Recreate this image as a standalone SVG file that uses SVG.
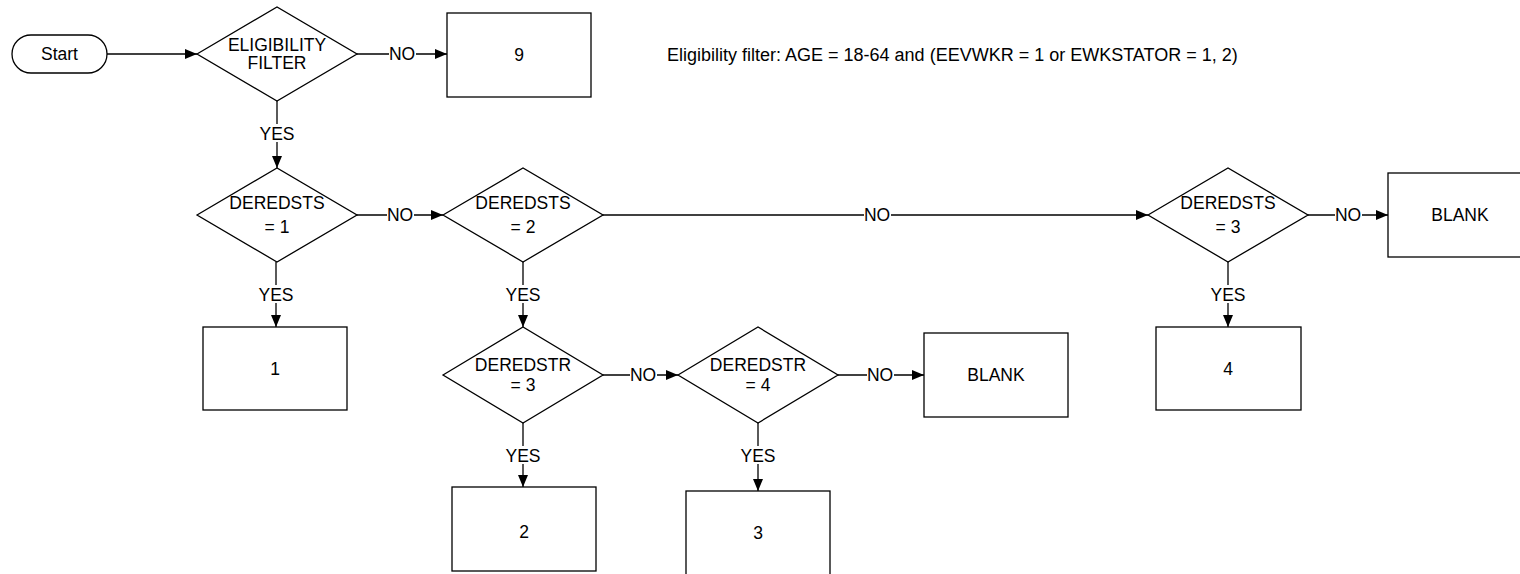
<svg xmlns="http://www.w3.org/2000/svg" width="1520" height="574" viewBox="0 0 1520 574">
<style>
  .shape { fill: #ffffff; stroke: #000000; stroke-width: 1.3; }
  .txt { font-family: "Liberation Sans", Arial, sans-serif; font-size: 17.5px; fill: #000000; text-anchor: middle; }
  .note { font-family: "Liberation Sans", Arial, sans-serif; font-size: 18px; fill: #000000; text-anchor: start; }
  .edge { fill: none; stroke: #000000; stroke-width: 1.3; marker-end: url(#arrow); }
  .bg { fill: #ffffff; stroke: none; }
  .lbl { font-family: "Liberation Sans", Arial, sans-serif; font-size: 17.5px; fill: #000000; text-anchor: middle; }
</style>
<defs>
  <marker id="arrow" markerUnits="userSpaceOnUse" markerWidth="13" markerHeight="11" refX="12" refY="5" orient="auto">
    <path d="M0,0 L12,5 L0,10 Z" fill="#000000"/>
  </marker>
</defs>
<rect width="1520" height="574" fill="#ffffff"/>

<g id="connectors">
  <path class="edge" d="M107,54 L197,54"/>

  <path class="edge" d="M357,54 L447,54"/>
  <rect class="bg" x="389" y="45" width="27" height="18"/>
  <text class="lbl" x="402" y="60">NO</text>

  <path class="edge" d="M277,101 L277,168"/>
  <rect class="bg" x="259" y="124" width="36" height="18"/>
  <text class="lbl" x="277" y="140">YES</text>

  <path class="edge" d="M357,215 L443,215"/>
  <rect class="bg" x="387" y="206" width="27" height="18"/>
  <text class="lbl" x="400" y="221">NO</text>

  <path class="edge" d="M276,262 L276,327"/>
  <rect class="bg" x="258" y="285" width="36" height="18"/>
  <text class="lbl" x="276" y="301">YES</text>

  <path class="edge" d="M603,215 L1148,215"/>
  <rect class="bg" x="864" y="206" width="27" height="18"/>
  <text class="lbl" x="877" y="221">NO</text>

  <path class="edge" d="M523,262 L523,327"/>
  <rect class="bg" x="505" y="285" width="36" height="18"/>
  <text class="lbl" x="523" y="301">YES</text>

  <path class="edge" d="M603,375 L678,375"/>
  <rect class="bg" x="630" y="366" width="27" height="18"/>
  <text class="lbl" x="643" y="381">NO</text>

  <path class="edge" d="M838,375 L924,375"/>
  <rect class="bg" x="867" y="366" width="27" height="18"/>
  <text class="lbl" x="880" y="381">NO</text>

  <path class="edge" d="M523,423 L523,487"/>
  <rect class="bg" x="505" y="446" width="36" height="18"/>
  <text class="lbl" x="523" y="462">YES</text>

  <path class="edge" d="M758,423 L758,491"/>
  <rect class="bg" x="740" y="446" width="36" height="18"/>
  <text class="lbl" x="758" y="462">YES</text>

  <path class="edge" d="M1308,215 L1388,215"/>
  <rect class="bg" x="1335" y="206" width="27" height="18"/>
  <text class="lbl" x="1348" y="221">NO</text>

  <path class="edge" d="M1228,262 L1228,327"/>
  <rect class="bg" x="1210" y="285" width="36" height="18"/>
  <text class="lbl" x="1228" y="301">YES</text>
</g>

<g id="start">
  <rect class="shape" x="12" y="35" width="95" height="38" rx="19" ry="19"/>
  <text class="txt" x="59.5" y="60">Start</text>
</g>

<g id="eligibility">
  <polygon class="shape" points="197,54 277,7 357,54 277,101"/>
  <text class="txt" x="277" y="51">ELIGIBILITY</text>
  <text class="txt" x="277" y="69">FILTER</text>
</g>

<g id="box9">
  <rect class="shape" x="447" y="13" width="144" height="84"/>
  <text class="txt" x="519" y="61">9</text>
</g>

<g id="note">
  <text class="note" x="667" y="61">Eligibility filter: AGE = 18-64 and (EEVWKR = 1 or EWKSTATOR = 1, 2)</text>
</g>

<g id="deredsts1">
  <polygon class="shape" points="197,215 277,168 357,215 277,262"/>
  <text class="txt" x="277" y="209">DEREDSTS</text>
  <text class="txt" x="277" y="233">= 1</text>
</g>

<g id="box1">
  <rect class="shape" x="203" y="327" width="144" height="83"/>
  <text class="txt" x="275" y="375">1</text>
</g>

<g id="deredsts2">
  <polygon class="shape" points="443,215 523,168 603,215 523,262"/>
  <text class="txt" x="523" y="209">DEREDSTS</text>
  <text class="txt" x="523" y="233">= 2</text>
</g>

<g id="deredstr3">
  <polygon class="shape" points="443,375 523,327 603,375 523,423"/>
  <text class="txt" x="523" y="371">DEREDSTR</text>
  <text class="txt" x="523" y="391">= 3</text>
</g>

<g id="deredstr4">
  <polygon class="shape" points="678,375 758,327 838,375 758,423"/>
  <text class="txt" x="758" y="371">DEREDSTR</text>
  <text class="txt" x="758" y="391">= 4</text>
</g>

<g id="blank1">
  <rect class="shape" x="924" y="333" width="144" height="84"/>
  <text class="txt" x="996" y="381">BLANK</text>
</g>

<g id="box2">
  <rect class="shape" x="452" y="487" width="144" height="84"/>
  <text class="txt" x="524" y="538">2</text>
</g>

<g id="box3">
  <rect class="shape" x="686" y="491" width="144" height="84"/>
  <text class="txt" x="758" y="539">3</text>
</g>

<g id="deredsts3">
  <polygon class="shape" points="1148,215 1228,168 1308,215 1228,262"/>
  <text class="txt" x="1228" y="209">DEREDSTS</text>
  <text class="txt" x="1228" y="233">= 3</text>
</g>

<g id="blank2">
  <rect class="shape" x="1388" y="173" width="144" height="84"/>
  <text class="txt" x="1460" y="221">BLANK</text>
</g>

<g id="box4">
  <rect class="shape" x="1156" y="327" width="145" height="83"/>
  <text class="txt" x="1228" y="375">4</text>
</g>
</svg>
